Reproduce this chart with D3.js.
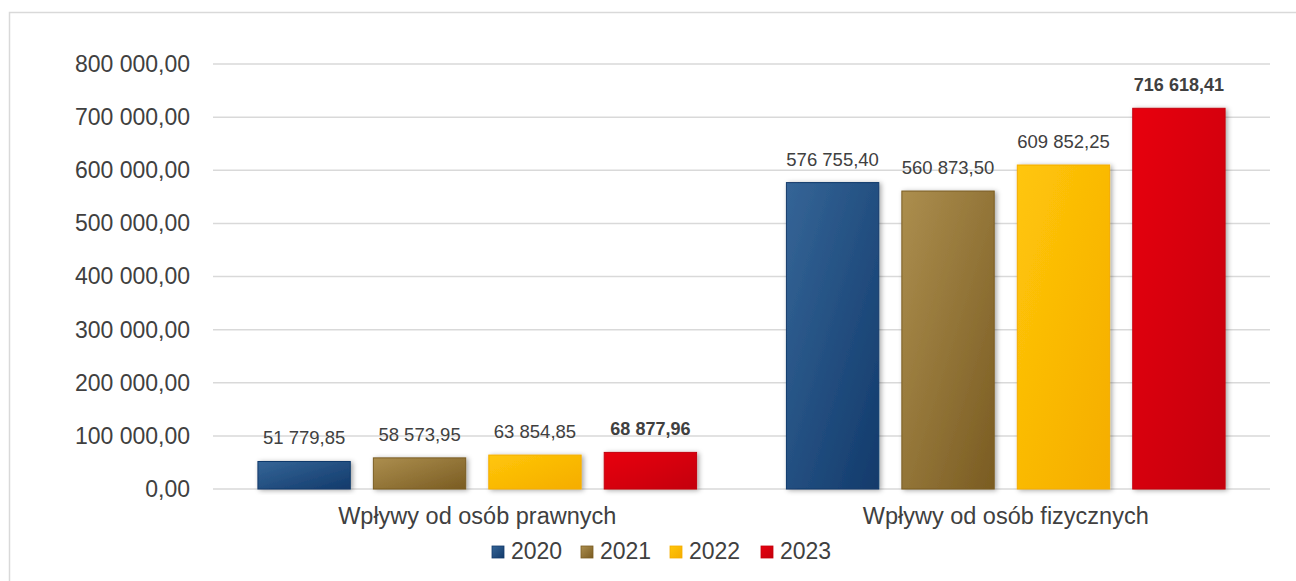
<!DOCTYPE html>
<html>
<head>
<meta charset="utf-8">
<script src="https://cdn.jsdelivr.net/npm/d3@7"></script>
<style>
  body { margin: 0; background: #fff; }
  svg { font-family: "Liberation Sans", Arial, sans-serif; }
</style>
</head>
<body>
<svg width="1296" height="581"></svg>
<script>
const categories = ["Wpływy od osób prawnych", "Wpływy od osób fizycznych"];
const years = ["2020", "2021", "2022", "2023"];
const values2020 = [51779.85, 576755.40];
const values2021 = [58573.95, 560873.50];
const values2022 = [63854.85, 609852.25];
const values2023 = [68877.96, 716618.41];
const yTicks = [0, 100000, 200000, 300000, 400000, 500000, 600000, 700000, 800000];

const series = [values2020, values2021, values2022, values2023];
// gradient stops light -> dark per year
const colors = [
  ["#356597", "#123a6b"],
  ["#ac8e4e", "#7a5c22"],
  ["#ffc609", "#f5ad00"],
  ["#e8000f", "#c4000c"]
];

const svg = d3.select("svg"),
  width = +svg.attr("width"),
  height = +svg.attr("height");

const pl = d3.formatLocale({ decimal: ",", thousands: "\u00a0", grouping: [3], currency: ["", ""] });
const fmt = pl.format(",.2f");

const plotLeft = 213, plotRight = 1270, plotTop = 64, plotBottom = 489;
const textColor = "#404040";

const y = d3.scaleLinear().domain([0, 800000]).range([plotBottom, plotTop]);
const x0 = d3.scaleBand().domain(categories).range([plotLeft, plotRight]).paddingInner(0.17).paddingOuter(0.085);
const x1 = d3.scaleBand().domain(years).range([0, x0.bandwidth()]).paddingInner(0.2);

// frame (cropped on right/bottom as in the original)
svg.append("rect")
  .attr("x", 9.5).attr("y", 12.5)
  .attr("width", 1300).attr("height", 600)
  .attr("fill", "none").attr("stroke", "#d9d9d9").attr("stroke-width", 1.5);

const defs = svg.append("defs");
colors.forEach(function (c, i) {
  const g = defs.append("linearGradient").attr("id", "grad" + i)
    .attr("x1", "0%").attr("y1", "0%").attr("x2", "100%").attr("y2", "100%");
  g.append("stop").attr("offset", "0%").attr("stop-color", c[0]);
  g.append("stop").attr("offset", "100%").attr("stop-color", c[1]);
});
const shadow = defs.append("filter").attr("id", "shadow")
  .attr("x", "-20%").attr("y", "-20%").attr("width", "140%").attr("height", "140%");
shadow.append("feDropShadow").attr("dx", 2).attr("dy", 1).attr("stdDeviation", 2.5)
  .attr("flood-color", "#000").attr("flood-opacity", 0.35);

// gridlines
svg.append("g")
  .selectAll("line")
  .data(yTicks)
  .enter()
  .append("line")
  .attr("x1", plotLeft).attr("x2", plotRight)
  .attr("y1", d => y(d)).attr("y2", d => y(d))
  .attr("stroke", "#d9d9d9").attr("stroke-width", 1.5);

// y axis labels
const yAxis = svg.append("g")
  .attr("transform", "translate(" + (plotLeft - 23) + ",0)")
  .call(d3.axisLeft(y).tickValues(yTicks).tickFormat(fmt).tickSize(0).tickPadding(0));
yAxis.select(".domain").remove();
yAxis.selectAll("text")
  .attr("fill", textColor)
  .style("font-size", "23px")
  .style("font-family", "\"Liberation Sans\", Arial, sans-serif");

// bars
const groups = svg.append("g")
  .selectAll("g")
  .data(categories)
  .enter()
  .append("g")
  .attr("transform", d => "translate(" + x0(d) + ",0)");

function rows(d, ci) {
  return years.map((yr, si) => ({ year: yr, si: si, value: series[si][ci] }));
}

groups.selectAll("rect")
  .data(rows)
  .enter()
  .append("rect")
  .attr("x", d => x1(d.year))
  .attr("y", d => y(d.value))
  .attr("width", x1.bandwidth())
  .attr("height", d => y(0) - y(d.value))
  .attr("fill", d => "url(#grad" + d.si + ")")
  .attr("stroke", d => colors[d.si][1])
  .attr("stroke-width", 1)
  .attr("filter", "url(#shadow)");

groups.selectAll("text")
  .data(rows)
  .enter()
  .append("text")
  .attr("x", d => x1(d.year) + x1.bandwidth() / 2)
  .attr("y", d => y(d.value) - 17)
  .attr("text-anchor", "middle")
  .attr("fill", textColor)
  .style("font-size", d => d.si === 3 ? "18px" : "18.5px")
  .style("font-weight", d => d.si === 3 ? "bold" : "normal")
  .text(d => fmt(d.value));

// category labels
svg.append("g")
  .selectAll("text")
  .data(categories)
  .enter()
  .append("text")
  .attr("x", d => x0(d) + x0.bandwidth() / 2)
  .attr("y", 524)
  .attr("text-anchor", "middle")
  .attr("fill", textColor)
  .style("font-size", "23.5px")
  .text(d => d);

// legend
const legendX = [492, 581, 670, 761];
const legend = svg.append("g")
  .selectAll("g")
  .data(years)
  .enter()
  .append("g")
  .attr("transform", (d, i) => "translate(" + legendX[i] + ",546)");
legend.append("rect")
  .attr("width", 12).attr("height", 12)
  .attr("fill", (d, i) => "url(#grad" + i + ")")
  .attr("stroke", (d, i) => colors[i][1]).attr("stroke-width", 0.8);
legend.append("text")
  .attr("x", 19).attr("y", 12.5)
  .attr("fill", textColor)
  .style("font-size", "23px")
  .text(d => d);
</script>
</body>
</html>
